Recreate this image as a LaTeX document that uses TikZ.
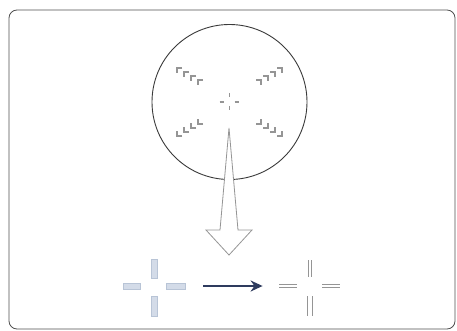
\documentclass[tikz,border=0pt]{standalone}
\usetikzlibrary{arrows.meta, calc}
\definecolor{rahmen}{HTML}{505050}
\definecolor{kreis}{HTML}{3A3A3A}
\definecolor{marke}{HTML}{959595}
\definecolor{blass}{HTML}{D3DBE8}
\definecolor{blassrand}{HTML}{B8C4D6}
\definecolor{navy}{HTML}{2E3B5E}

\begin{document}
\begin{tikzpicture}[x=1pt, y=-1pt, >={Stealth[length=12pt, width=11pt]}, line width=0.8pt,
  winkel/.style={marke, line width=1.1pt},
  balken/.style={fill=blass, draw=blassrand, line width=0.5pt},
  strich/.style={marke, line width=0.9pt}]
  \useasboundingbox (0,0) rectangle (457,331);
  \draw[rahmen, rounded corners=8pt] (9,10) rectangle (455,329);
  \coordinate (M) at (229.5,102);    % Mitte des Kreises
  \draw[kreis, line width=0.9pt] (M) circle (77.5pt);
  % Fadenkreuz in der Mitte
  \draw[winkel] ($(M)+(0,-9)$) -- ($(M)+(0,-5)$) ($(M)+(0,4)$) -- ($(M)+(0,8)$);
  \draw[winkel] ($(M)+(-10,0)$) -- ($(M)+(-6,0)$) ($(M)+(5,0)$) -- ($(M)+(9,0)$);
  % Ecken, die nach innen wandern
  \foreach \sx/\sy in {-1/-1, 1/-1, -1/1, 1/1}{
    \foreach \k in {0,...,3}{
      \coordinate (C) at ($(M)+({\sx*(52.5-7*\k)},{\sy*(34-4*\k)})$);
      \draw[winkel] ($(C)+({-\sx*5},0)$) -- (C) -- ($(C)+(0,{-\sy*5})$);
    }
  }
  % hohler Pfeil nach unten
  \coordinate (oben) at (229,128);
  \coordinate (spitze) at (229,255);
  \draw[marke, fill=white, line width=0.8pt] (oben) -- ($(spitze)+(9,-25)$) -- ($(spitze)+(23,-25)$)
    -- (spitze) -- ($(spitze)+(-23,-25)$) -- ($(spitze)+(-9,-25)$) -- cycle;
  % Kreuz vorher (unscharf) und nachher (doppelt)
  \node[minimum width=98pt, minimum height=10pt, inner sep=0pt] (L) at (154,286) {};
  \node[minimum width=94pt, minimum height=10pt, inner sep=0pt] (R) at (310,286) {};
  \draw[balken] ($(L)+(-3,-27)$) rectangle ($(L)+(3,-8)$);
  \draw[balken] ($(L)+(-3,10)$) rectangle ($(L)+(3,30)$);
  \draw[balken] ($(L)+(-31,-3)$) rectangle ($(L)+(-14,3)$);
  \draw[balken] ($(L)+(12,-3)$) rectangle ($(L)+(31,3)$);
  \foreach \d in {-1.6,1.6}{
    \draw[strich] ($(R)+(\d,-26)$) -- ($(R)+(\d,-9)$);
    \draw[strich] ($(R)+({1.5*\d},10)$) -- ($(R)+({1.5*\d},30)$);
    \draw[strich] ($(R)+(-31,\d)$) -- ($(R)+(-13,\d)$);
    \draw[strich] ($(R)+(12,\d)$) -- ($(R)+(30,\d)$);
  }
  \draw[->, navy, line width=2.8pt] (L) -- (R);
\end{tikzpicture}
\end{document}
